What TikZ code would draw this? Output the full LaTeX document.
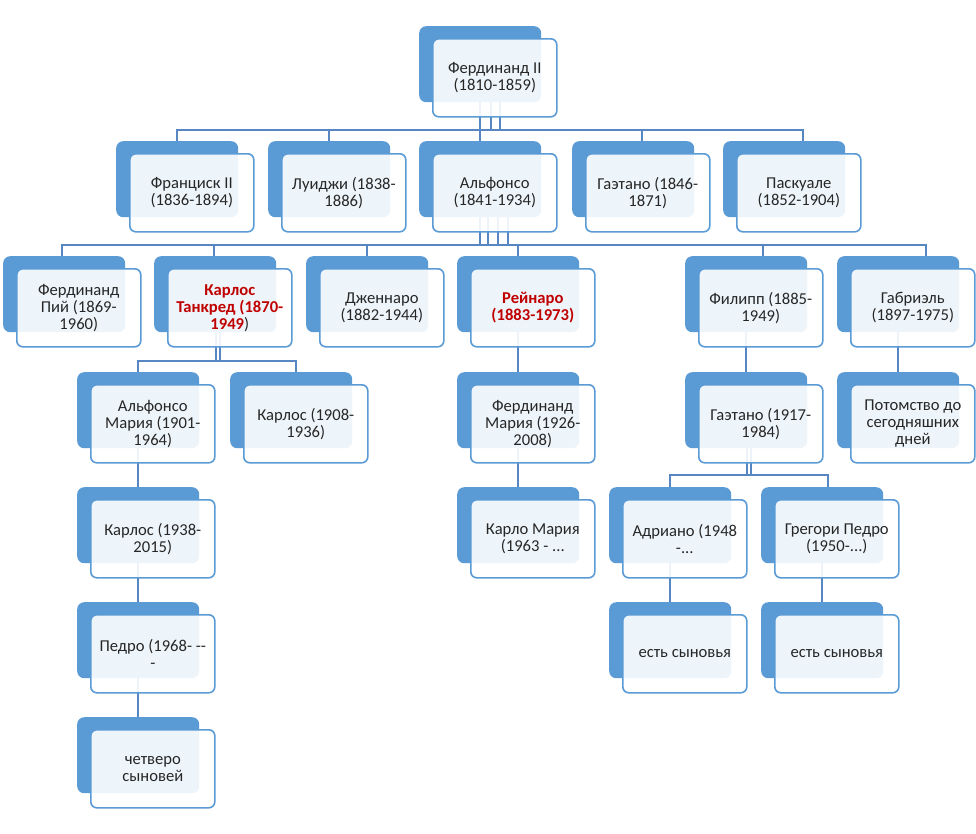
\documentclass[tikz,border=0pt]{standalone}
\usepackage{fontspec}
\setmainfont{Carlito}
\definecolor{bfill}{HTML}{5B9BD5}
\definecolor{lcol}{HTML}{5687C3}
\definecolor{tcol}{HTML}{262626}
\definecolor{redt}{HTML}{C00000}
\tikzset{
  backbox/.style={rectangle, rounded corners=7pt, fill=bfill, minimum width=122pt, minimum height=76pt, anchor=north west, inner sep=0pt},
  frontbox/.style={rectangle, rounded corners=6pt, draw=bfill, line width=1.6pt, fill=white, fill opacity=0.9, text opacity=1, minimum width=124pt, minimum height=78pt, anchor=north west, inner sep=0pt, align=center, font=\fontsize{16.6}{17}\selectfont, text=tcol},
  conn/.style={draw=lcol, line width=1.7pt}
}
\newcommand\bnode[3]{\node[backbox] (#1b) at (#2,#3) {};}
\newcommand\fnode[2]{\node[frontbox] (#1f) at ([xshift=13pt,yshift=-12pt]#1b.north west) {#2};}
\newcommand\rb[1]{\textbf{\color{redt}#1}}
\begin{document}
\begin{tikzpicture}[x=1pt,y=-1pt]
\fill[white] (0,0) rectangle (976,833);
\useasboundingbox (0,0) rectangle (976,833);
% back boxes
\bnode{F2}{419}{26}
\bnode{Fr}{116}{141}
\bnode{Lu}{268}{141}
\bnode{Al}{419}{141}
\bnode{Ga}{572}{141}
\bnode{Pa}{723}{141}
\bnode{FP}{3}{256}
\bnode{KT}{154}{256}
\bnode{Dz}{306}{256}
\bnode{Re}{457}{256}
\bnode{Fi}{685}{256}
\bnode{Gb}{837}{256}
\bnode{AM}{77}{372}
\bnode{Ko}{230}{372}
\bnode{FM}{457}{372}
\bnode{Gt}{685}{372}
\bnode{Po}{837}{372}
\bnode{KK}{77}{487}
\bnode{KM}{457}{487}
\bnode{Ad}{609}{487}
\bnode{Gr}{761}{487}
\bnode{Pe}{77}{602}
\bnode{Sa}{609}{602}
\bnode{Sb}{761}{602}
\bnode{Ch}{77}{717}
% buses
\coordinate (bus1) at (0,130);
\coordinate (bus2) at (0,245);
\coordinate (bus3) at (0,361);
\coordinate (bus4) at (0,475);
% level 0 -> 1
\draw[conn] (F2b.south) -- (Alb.north);
\coordinate (f2a) at ([xshift=11pt]F2b.south);
\coordinate (f2c) at ([xshift=20pt]F2b.south);
\draw[conn] (f2a) -- (f2a |- bus1);
\draw[conn] (f2c) -- (f2c |- bus1);
\coordinate (ga) at ([xshift=9pt]Gab.north);
\coordinate (pa) at ([xshift=19pt]Pab.north);
\draw[conn] (Frb.north) -- (Frb.north |- bus1) -- (pa |- bus1) -- (pa);
\draw[conn] (Lub.north) -- (Lub.north |- bus1);
\draw[conn] (ga) -- (ga |- bus1);
% level 1 -> 2
\coordinate (ala) at ([xshift=8pt]Alb.south);
\coordinate (alc) at ([xshift=18pt]Alb.south);
\coordinate (ald) at ([xshift=28pt]Alb.south);
\draw[conn] (Alb.south) -- (Alb.south |- bus2);
\draw[conn] (ala) -- (ala |- bus2);
\draw[conn] (alc) -- (alc |- bus2);
\draw[conn] (ald) -- (ald |- bus2);
\coordinate (fp) at ([xshift=-2pt]FPb.north);
\coordinate (kt) at ([xshift=-1pt]KTb.north);
\coordinate (fi) at ([xshift=17pt]Fib.north);
\coordinate (gb) at ([xshift=28pt]Gbb.north);
\draw[conn] (fp) -- (fp |- bus2) -- (gb |- bus2) -- (gb);
\draw[conn] (kt) -- (kt |- bus2);
\draw[conn] (Dzb.north) -- (Dzb.north |- bus2);
\draw[conn] (Reb.north) -- (Reb.north |- bus2);
\draw[conn] (fi) -- (fi |- bus2);
% KT children
\coordinate (kta) at ([xshift=1pt]KTb.south);
\coordinate (ktc) at ([xshift=5pt]KTb.south);
\coordinate (ko) at ([xshift=5pt]Kob.north);
\draw[conn] (AMb.north) -- (AMb.north |- bus3) -- (ko |- bus3) -- (ko);
\draw[conn] (kta) -- (kta |- bus3);
\draw[conn] (ktc) -- (ktc |- bus3);
% single lines
\draw[conn] (Reb.south) -- (FMb.north);
\draw[conn] (Fib.south) -- (Gtb.north);
\draw[conn] (Gbb.south) -- (Pob.north);
\draw[conn] (AMb.south) -- (KKb.north);
\draw[conn] (FMb.south) -- (KMb.north);
\draw[conn] (KKb.south) -- (Peb.north);
\draw[conn] (Adb.south) -- (Sab.north);
\draw[conn] (Grb.south) -- (Sbb.north);
\draw[conn] (Peb.south) -- (Chb.north);
% Gt children
\coordinate (gta) at ([xshift=1pt]Gtb.south);
\coordinate (gtc) at ([xshift=5pt]Gtb.south);
\coordinate (gr) at ([xshift=6pt]Grb.north);
\draw[conn] (Adb.north) -- (Adb.north |- bus4) -- (gr |- bus4) -- (gr);
\draw[conn] (gta) -- (gta |- bus4);
\draw[conn] (gtc) -- (gtc |- bus4);
% front boxes
\fnode{F2}{Фердинанд II\\(1810-1859)}
\fnode{Fr}{Франциск II\\(1836-1894)}
\fnode{Lu}{Луиджи (1838-\\1886)}
\fnode{Al}{Альфонсо\\(1841-1934)}
\fnode{Ga}{Гаэтано (1846-\\1871)}
\fnode{Pa}{Паскуале\\(1852-1904)}
\fnode{FP}{Фердинанд\\Пий (1869-\\1960)}
\fnode{KT}{\rb{Карлос}\\\rb{Танкред (1870-}\\\rb{1949})}
\fnode{Dz}{Дженнаро\\(1882-1944)}
\fnode{Re}{\rb{Рейнаро}\\\rb{(1883-1973)}}
\fnode{Fi}{Филипп (1885-\\1949)}
\fnode{Gb}{Габриэль\\(1897-1975)}
\fnode{AM}{Альфонсо\\Мария (1901-\\1964)}
\fnode{Ko}{Карлос (1908-\\1936)}
\fnode{FM}{Фердинанд\\Мария (1926-\\2008)}
\fnode{Gt}{Гаэтано (1917-\\1984)}
\fnode{Po}{Потомство до\\сегодняшних\\дней}
\fnode{KK}{Карлос (1938-\\2015)}
\fnode{KM}{Карло Мария\\(1963 - .{}.{}.}
\fnode{Ad}{Адриано (1948\\-.{}.{}.}
\fnode{Gr}{Грегори Педро\\(1950-.{}.{}.)}
\fnode{Pe}{Педро (1968- -{}-\\-}
\fnode{Sa}{есть сыновья}
\fnode{Sb}{есть сыновья}
\fnode{Ch}{четверо\\сыновей}
\end{tikzpicture}
\end{document}
